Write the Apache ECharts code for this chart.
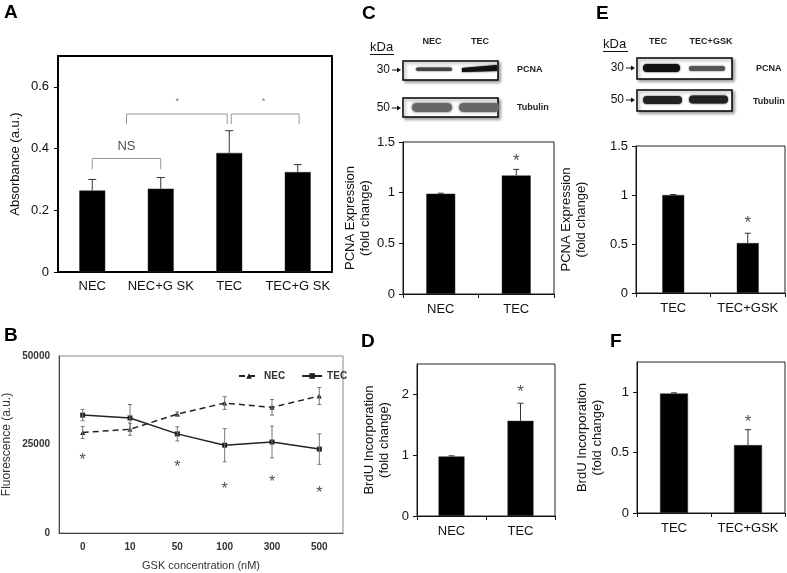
<!DOCTYPE html>
<html><head><meta charset="utf-8">
<script src="https://cdn.jsdelivr.net/npm/echarts@6/dist/echarts.min.js"></script>
<style>html,body{margin:0;padding:0;background:#fff}#c{width:787px;height:573px}</style>
</head><body><div id="c"></div>
<script>
// ---------- DATA ----------
// Panel A
const aCats = ['NEC', 'NEC+G SK', 'TEC', 'TEC+G SK'];
const aVals = [0.264, 0.270, 0.386, 0.324];
const aErr  = [0.036, 0.036, 0.072, 0.024];
const aBrackets = [
  [[0, 0.333], [0, 0.368], [1, 0.368], [1, 0.333]],
  [[0.5, 0.479], [0.5, 0.512], [1.97, 0.512], [1.97, 0.479]],
  [[2.03, 0.479], [2.03, 0.512], [3.02, 0.512], [3.02, 0.479]]
];
const aNotes = [[0.5, 0.408, 'NS'], [1.24, 0.552, '*'], [2.5, 0.552, '*']];
// Panel B
const bCats = ['0', '10', '50', '100', '300', '500'];
const bNEC = [28400, 29300, 33600, 36700, 35500, 38700];
const bNECerr = [1700, 1700, 600, 1800, 2200, 2400];
const bTEC = [33300, 32500, 28000, 24800, 25700, 23700];
const bTECerr = [1600, 3800, 2000, 4700, 4500, 4300];
const bStars = [[0, 20500], [2, 18500], [3, 12300], [4, 14300], [5, 11000]];
// Panel C
const cCats = ['NEC', 'TEC'];
const cVals = [0.99, 1.17];
const cErr  = [0.005, 0.06];
const cStar = [[1, 1.31]];
// Panel D
const dCats = ['NEC', 'TEC'];
const dVals = [0.98, 1.565];
const dErr  = [0.01, 0.29];
const dStar = [[1, 2.04]];
// Panel E
const eCats = ['TEC', 'TEC+GSK'];
const eVals = [1.0, 0.51];
const eErr  = [0.005, 0.10];
const eStar = [[1, 0.71]];
// Panel F
const fCats = ['TEC', 'TEC+GSK'];
const fVals = [0.99, 0.562];
const fErr  = [0.005, 0.128];
const fStar = [[1, 0.75]];

// ---------- HELPERS ----------
const FF = "'Liberation Sans', Arial, sans-serif";
const chart = echarts.init(document.getElementById('c'));

function catAxis(grid, cats, o) {
  return Object.assign({
    type: 'category', gridIndex: grid, data: cats,
    axisLine: {lineStyle: {color: '#111', width: 1}},
    axisTick: {show: true, length: 4, lineStyle: {color: '#111'}},
    axisLabel: {fontFamily: FF, fontSize: 13, color: '#111', margin: 9, interval: 0},
    splitLine: {show: false}
  }, o || {});
}
function valAxis(grid, max, interval, showMax, o) {
  return Object.assign({
    type: 'value', gridIndex: grid, min: 0, max: max, interval: interval,
    axisLine: {show: true, onZero: false, lineStyle: {color: '#111', width: 1}},
    axisTick: {show: true, length: 4, lineStyle: {color: '#111'}},
    axisLabel: {fontFamily: FF, fontSize: 13, color: '#111', margin: 8, showMaxLabel: showMax,
                formatter: v => String(v)},
    splitLine: {show: false},
    nameLocation: 'middle', nameRotate: 90,
    nameTextStyle: {fontFamily: FF, fontSize: 13, color: '#111', lineHeight: 15}
  }, o || {});
}
function bars(xi, vals, width) {
  return {type: 'bar', xAxisIndex: xi, yAxisIndex: xi, data: vals, barWidth: width,
          itemStyle: {color: '#000', borderColor: '#333', borderWidth: 0.5}, z: 2};
}
function errBars(xi, vals, errs, both, color, cap) {
  return {
    type: 'custom', xAxisIndex: xi, yAxisIndex: xi, z: 4,
    data: vals.map((v, i) => [i, v, errs[i]]),
    renderItem(params, api) {
      const i = api.value(0), v = api.value(1), e = api.value(2);
      const top = api.coord([i, v + e]);
      const bot = api.coord([i, both ? v - e : v]);
      const x = top[0];
      const st = {stroke: color, lineWidth: 1};
      const ch = [
        {type: 'line', shape: {x1: x, y1: top[1], x2: x, y2: bot[1]}, style: st},
        {type: 'line', shape: {x1: x - cap, y1: top[1], x2: x + cap, y2: top[1]}, style: st}
      ];
      if (both) ch.push({type: 'line', shape: {x1: x - cap, y1: bot[1], x2: x + cap, y2: bot[1]}, style: st});
      return {type: 'group', children: ch};
    }
  };
}
function stars(xi, yi, pts, size) {
  return {
    type: 'scatter', xAxisIndex: xi, yAxisIndex: yi, z: 5, symbolSize: 1, silent: true,
    itemStyle: {color: 'rgba(0,0,0,0)'},
    data: pts.map(p => [p[0], p[1], p[2] || '*']),
    label: {show: true, position: 'inside', formatter: p => p.value[2],
            fontFamily: FF, fontSize: size, color: '#222'}
  };
}

// ---------- GRIDS ----------
const grids = [
  {left: 58, top: 56, width: 274, height: 216, show: true, borderColor: '#000', borderWidth: 2},  // A
  {left: 58, top: 356, width: 285, height: 177, show: true, borderColor: '#8a8a8a', borderWidth: 1}, // B
  {left: 403, top: 142, width: 151, height: 152, show: true, borderColor: '#222', borderWidth: 1}, // C
  {left: 417, top: 364, width: 138, height: 152, show: true, borderColor: '#222', borderWidth: 1}, // D
  {left: 636, top: 146, width: 149, height: 147, show: true, borderColor: '#222', borderWidth: 1}, // E
  {left: 637, top: 362, width: 148, height: 151, show: true, borderColor: '#222', borderWidth: 1}  // F
];

const xAxes = [
  catAxis(0, aCats, {axisLine: {onZero: false, lineStyle: {color: '#000', width: 2}}, axisTick: {length: 4, lineStyle: {color: '#000'}},
                     axisLabel: {fontFamily: FF, fontSize: 13, color: '#111', margin: 8, interval: 0}}),
  catAxis(1, bCats, {axisLine: {lineStyle: {color: '#444'}}, axisTick: {length: 4, lineStyle: {color: '#444'}},
                     axisLabel: {fontFamily: FF, fontSize: 10, fontWeight: 'bold', color: '#333', margin: 9, interval: 0},
                     name: 'GSK concentration (nM)', nameLocation: 'middle', nameGap: 27,
                     nameTextStyle: {fontFamily: FF, fontSize: 11, color: '#333'}}),
  catAxis(2, cCats),
  catAxis(3, dCats),
  catAxis(4, eCats),
  catAxis(5, fCats),
  {type: 'value', gridIndex: 0, min: -0.5, max: 3.5, show: false}  // A bracket axis
];
const yAxes = [
  valAxis(0, 0.7, 0.2, false, {name: 'Absorbance (a.u.)', nameGap: 35,
    axisLine: {show: true, onZero: false, lineStyle: {color: '#000', width: 2}}, axisTick: {length: 4, lineStyle: {color: '#000'}},
    axisLabel: {fontFamily: FF, fontSize: 13, color: '#111', margin: 9, showMaxLabel: false, formatter: v => String(v)}}),
  valAxis(1, 50000, 25000, true, {name: 'Fluorescence (a.u.)', nameGap: 46,
    nameTextStyle: {fontFamily: FF, fontSize: 12, color: '#333'},
    axisLine: {show: true, onZero: false, lineStyle: {color: '#444'}}, axisTick: {length: 4, lineStyle: {color: '#444'}},
    axisLabel: {fontFamily: FF, fontSize: 10, fontWeight: 'bold', color: '#333', margin: 9, formatter: v => String(v)}}),
  valAxis(2, 1.5, 0.5, true, {name: 'PCNA Expression\n(fold change)', nameGap: 27}),
  valAxis(3, 2.5, 1, false, {name: 'BrdU Incorporation\n(fold change)', nameGap: 25}),
  valAxis(4, 1.5, 0.5, true, {name: 'PCNA Expression\n(fold change)', nameGap: 47}),
  valAxis(5, 1.25, 0.5, false, {name: 'BrdU Incorporation\n(fold change)', nameGap: 32})
];

// ---------- SERIES ----------
const series = [
  bars(0, aVals, 26), errBars(0, aVals, aErr, false, '#333', 4),
  bars(2, cVals, 29), errBars(2, cVals, cErr, false, '#333', 3),
  bars(3, dVals, 26), errBars(3, dVals, dErr, false, '#333', 3),
  bars(4, eVals, 22), errBars(4, eVals, eErr, false, '#333', 3),
  bars(5, fVals, 28), errBars(5, fVals, fErr, false, '#333', 3),
  stars(2, 2, cStar, 17), stars(3, 3, dStar, 17), stars(4, 4, eStar, 17), stars(5, 5, fStar, 17),
  // B lines
  {type: 'line', name: 'NEC', xAxisIndex: 1, yAxisIndex: 1, data: bNEC, symbol: 'triangle', symbolSize: 5,
   lineStyle: {color: '#222', width: 1.5, type: [6, 4]}, itemStyle: {color: '#222'}, z: 3},
  {type: 'line', name: 'TEC', xAxisIndex: 1, yAxisIndex: 1, data: bTEC, symbol: 'rect', symbolSize: 5,
   lineStyle: {color: '#222', width: 1.5}, itemStyle: {color: '#222'}, z: 3},
  errBars(1, bNEC, bNECerr, true, '#777', 2),
  errBars(1, bTEC, bTECerr, true, '#777', 2),
  stars(1, 1, bStars, 16)
];
// A brackets and notes
aBrackets.forEach(b => series.push({
  type: 'line', xAxisIndex: 6, yAxisIndex: 0, data: b, symbol: 'none', silent: true,
  lineStyle: {color: '#999', width: 1}, z: 3
}));
series.push({
  type: 'scatter', xAxisIndex: 6, yAxisIndex: 0, symbolSize: 1, silent: true, z: 5,
  itemStyle: {color: 'rgba(0,0,0,0)'},
  data: aNotes.map(n => ({value: n,
    label: n[2] === '*' ? {fontSize: 9, color: '#555'} : {fontSize: 13, color: '#222'}})),
  label: {show: true, position: 'inside', formatter: p => p.value[2], fontFamily: FF}
});

// ---------- DECORATION (panel letters, western blots) ----------
function txt(x, y, s, o) {
  return {type: 'text', x: x, y: y, style: Object.assign({text: s, fontFamily: FF, fontSize: 13, fill: '#111',
          verticalAlign: 'middle', align: 'left'}, o || {}), silent: true};
}
function box(x, y, w, h) {
  return {type: 'rect', shape: {x: x, y: y, width: w, height: h},
          style: {fill: '#fff', stroke: '#000', lineWidth: 1.5, shadowBlur: 3, shadowOffsetX: 2,
                  shadowOffsetY: 2, shadowColor: 'rgba(0,0,0,0.35)'}, silent: true};
}
function band(x, y, w, h, color, blur) {
  return {type: 'rect', shape: {x: x, y: y, width: w, height: h, r: h / 2},
          style: {fill: color, shadowBlur: blur, shadowColor: color}, silent: true, z: 10};
}
function arrow(xEnd, y) {
  return [
    {type: 'line', shape: {x1: xEnd - 9, y1: y, x2: xEnd - 3, y2: y}, style: {stroke: '#111', lineWidth: 1}, silent: true},
    {type: 'polygon', shape: {points: [[xEnd - 4, y - 2.5], [xEnd, y], [xEnd - 4, y + 2.5]]}, style: {fill: '#111'}, silent: true}
  ];
}
const letter = {fontFamily: FF, fontSize: 19, fontWeight: 'bold', fill: '#000', verticalAlign: 'top'};
const small = {fontFamily: FF, fontSize: 9, fontWeight: 'bold', fill: '#222'};
const graphic = [
  txt(4, 3, 'A', letter), txt(4, 326, 'B', letter), txt(362, 4, 'C', letter),
  txt(361, 332, 'D', letter), txt(596, 4, 'E', letter), txt(610, 332, 'F', letter),
  // C blot
  box(403, 61, 95, 19), box(403, 98, 95, 19),
  band(416, 67.5, 36, 3.5, '#444', 2),
  {type: 'polygon', shape: {points: [[462, 68], [497, 65], [497, 71], [462, 72]]},
   style: {fill: '#111', shadowBlur: 2, shadowColor: '#111'}, silent: true, z: 10},
  band(412, 103, 40, 9, '#666', 3), band(459, 103, 40, 9, '#666', 3),
  txt(370, 47, 'kDa', {fontSize: 13}),
  {type: 'line', shape: {x1: 370, y1: 54.5, x2: 394, y2: 54.5}, style: {stroke: '#111', lineWidth: 1}, silent: true},
  txt(390, 70, '30', {align: 'right', fontSize: 12}), ...arrow(401, 70),
  txt(390, 108, '50', {align: 'right', fontSize: 12}), ...arrow(401, 108),
  txt(432, 42, 'NEC', Object.assign({align: 'center'}, small)),
  txt(480, 42, 'TEC', Object.assign({align: 'center'}, small)),
  txt(517, 70, 'PCNA', small), txt(517, 108, 'Tubulin', small),
  // E blot
  box(637, 58, 95, 21), box(637, 90, 95, 21),
  band(643, 64, 37, 8, '#111', 2), band(689, 66, 36, 5, '#555', 2),
  band(643, 96, 39, 8, '#222', 2), band(689, 95.5, 39, 8, '#222', 2),
  txt(603, 44, 'kDa', {fontSize: 13}),
  {type: 'line', shape: {x1: 603, y1: 51.5, x2: 628, y2: 51.5}, style: {stroke: '#111', lineWidth: 1}, silent: true},
  txt(624, 68, '30', {align: 'right', fontSize: 12}), ...arrow(635, 68),
  txt(624, 100, '50', {align: 'right', fontSize: 12}), ...arrow(635, 100),
  txt(658, 42, 'TEC', Object.assign({align: 'center'}, small)),
  txt(711, 42, 'TEC+GSK', Object.assign({align: 'center'}, small)),
  txt(756, 69, 'PCNA', small), txt(753, 102, 'Tubulin', small)
];

chart.setOption({
  animation: false,
  backgroundColor: '#fff',
  grid: grids,
  xAxis: xAxes,
  yAxis: yAxes,
  legend: {data: ['NEC', 'TEC'], left: 233, top: 366, itemWidth: 20, itemHeight: 7, itemGap: 16,
           textStyle: {fontFamily: FF, fontSize: 10, fontWeight: 'bold', color: '#333'}},
  series: series,
  graphic: graphic
});
</script>
</body></html>
